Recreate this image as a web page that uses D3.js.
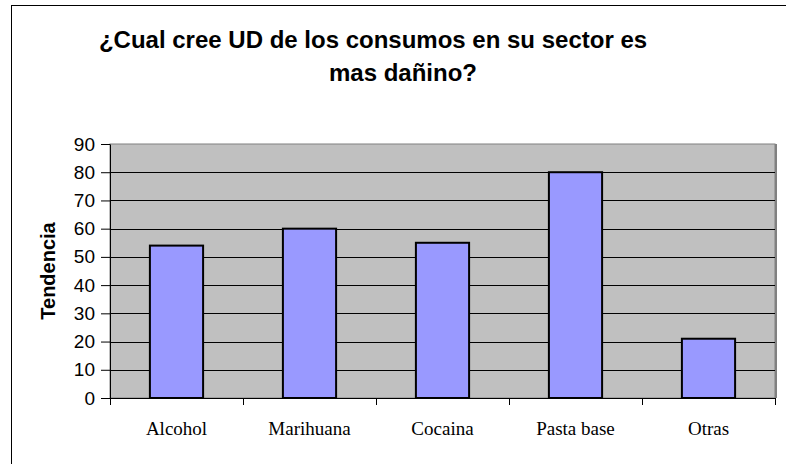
<!DOCTYPE html>
<html>
<head>
<meta charset="utf-8">
<script src="https://cdn.jsdelivr.net/npm/d3@7"></script>
<style>
  body { margin: 0; background: #fff; }
</style>
</head>
<body>
<script>
// chart data
var categories = ["Alcohol", "Marihuana", "Cocaina", "Pasta base", "Otras"];
var values = [54, 60, 55, 80, 21];
var yTicks = [0, 10, 20, 30, 40, 50, 60, 70, 80, 90];

var W = 786, H = 464;
var margin = {top: 144, right: 11, bottom: 66, left: 110},
    width = W - margin.left - margin.right,
    height = H - margin.top - margin.bottom;

var svg = d3.select("body").append("svg")
    .attr("width", W)
    .attr("height", H);

// outer chart border (only top/left visible in the picture)
svg.append("rect")
    .attr("x", 11.5).attr("y", 5.5)
    .attr("width", 790).attr("height", 470)
    .attr("fill", "none")
    .attr("stroke", "#000");

// title
var title = svg.append("text")
    .attr("text-anchor", "middle")
    .attr("font-family", "Liberation Sans, Arial, sans-serif")
    .attr("font-weight", "bold")
    .attr("font-size", "24px");
title.append("tspan").attr("x", 373).attr("y", 48).text("¿Cual cree UD de los consumos en su sector es");
title.append("tspan").attr("x", 403).attr("y", 81).text("mas dañino?");

var x = d3.scaleBand()
    .domain(categories)
    .range([0, width])
    .paddingInner(0.6)
    .paddingOuter(0.3);
var y = d3.scaleLinear()
    .domain([0, 90])
    .range([height, 0]);

var g = svg.append("g")
    .attr("transform", "translate(" + margin.left + "," + margin.top + ")");

// plot background
g.append("rect")
    .attr("width", width).attr("height", height)
    .attr("fill", "#c0c0c0")
    .attr("stroke", "#808080");

// gridlines
g.selectAll(".grid")
    .data(yTicks.slice(1, -1))
  .enter().append("line")
    .attr("x1", 0).attr("x2", width)
    .attr("y1", function(d) { return Math.round(y(d)) + 0.5; })
    .attr("y2", function(d) { return Math.round(y(d)) + 0.5; })
    .attr("stroke", "#000")
    .attr("stroke-width", 1);

// right edge of the plot
g.append("line")
    .attr("x1", width + 1).attr("x2", width + 1)
    .attr("y1", 0).attr("y2", height)
    .attr("stroke", "#808080").attr("stroke-width", 2);

// bars
g.selectAll(".bar")
    .data(values)
  .enter().append("rect")
    .attr("class", "bar")
    .attr("x", function(d, i) { return x(categories[i]); })
    .attr("width", x.bandwidth())
    .attr("y", function(d) { return y(d); })
    .attr("height", function(d) { return height - y(d); })
    .attr("fill", "#9999ff")
    .attr("stroke", "#000")
    .attr("stroke-width", 2);

// y axis
var yAxis = g.append("g")
    .call(d3.axisLeft(y).tickValues(yTicks).tickSize(9).tickPadding(6).tickSizeOuter(0));
yAxis.select(".domain").attr("stroke", "#000");
yAxis.selectAll("text")
    .attr("font-family", "Liberation Sans, Arial, sans-serif")
    .attr("font-size", "19px")
    .attr("fill", "#000");

// x axis with ticks on category boundaries
var xg = g.append("g")
    .attr("transform", "translate(0," + height + ")");
xg.append("line")
    .attr("x1", -9).attr("x2", width + 1)
    .attr("y1", 0.5).attr("y2", 0.5)
    .attr("stroke", "#000");
var bounds = d3.range(categories.length + 1).map(function(i) { return i * width / categories.length; });
xg.selectAll(".xt")
    .data(bounds)
  .enter().append("line")
    .attr("x1", function(d) { return Math.round(d) + 0.5; })
    .attr("x2", function(d) { return Math.round(d) + 0.5; })
    .attr("y1", 0).attr("y2", 7)
    .attr("stroke", "#000");
xg.selectAll(".xl")
    .data(categories)
  .enter().append("text")
    .attr("x", function(d) { return x(d) + x.bandwidth() / 2; })
    .attr("y", 37)
    .attr("text-anchor", "middle")
    .attr("font-family", "Liberation Serif, Times New Roman, serif")
    .attr("font-size", "19px")
    .text(function(d) { return d; });

// y axis label
svg.append("text")
    .attr("transform", "translate(55," + (margin.top + height / 2) + ") rotate(-90)")
    .attr("text-anchor", "middle")
    .attr("font-family", "Liberation Sans, Arial, sans-serif")
    .attr("font-weight", "bold")
    .attr("font-size", "20px")
    .text("Tendencia");
</script>
</body>
</html>
